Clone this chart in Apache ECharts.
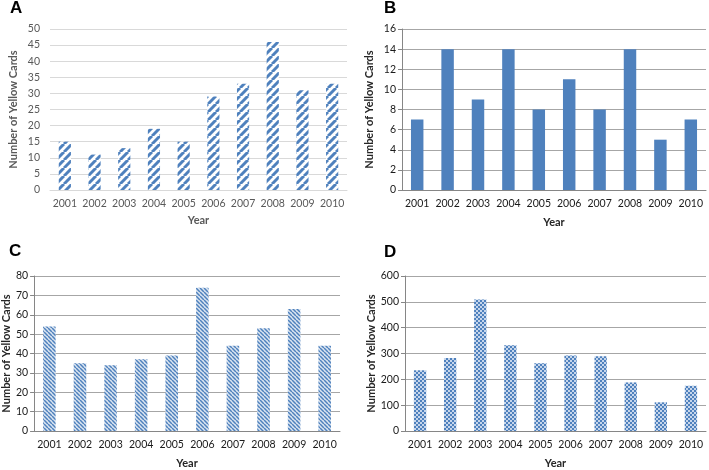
<!DOCTYPE html>
<html><head><meta charset="utf-8">
<script src="https://cdn.jsdelivr.net/npm/echarts@6/dist/echarts.min.js"></script>
<style>html,body{margin:0;padding:0;background:#fff}#c{width:709px;height:470px}</style>
</head><body><div id="c"></div>
<script>
const years = ['2001','2002','2003','2004','2005','2006','2007','2008','2009','2010'];
const valuesA = [15, 11, 13, 19, 15, 29, 33, 46, 31, 33];
const valuesB = [7, 14, 9, 14, 8, 11, 8, 14, 5, 7];
const valuesC = [54, 35, 34, 37, 39, 74, 44, 53, 63, 44];
const valuesD = [235, 283, 509, 332, 262, 292, 289, 188, 111, 175];
const panelLabels = ['A','B','C','D'];
const yMaxes = [50, 16, 80, 600];
const yIntervals = [5, 2, 10, 100];

const BLUE = '#4f81bd';
function makePattern(kind){
  const cv = document.createElement('canvas');
  const ctx = cv.getContext('2d');
  if(kind==='wide'){
    const s=8; cv.width=s; cv.height=s;
    ctx.fillStyle='#ffffff'; ctx.fillRect(0,0,s,s);
    ctx.strokeStyle=BLUE; ctx.lineWidth=3;
    for(let k=-1;k<=1;k++){ctx.beginPath();ctx.moveTo(k*s,s);ctx.lineTo(k*s+s,0);ctx.stroke();}
  } else if(kind==='fine'){
    const s=4; cv.width=s; cv.height=s;
    ctx.fillStyle='#dbe5f1'; ctx.fillRect(0,0,s,s);
    ctx.strokeStyle=BLUE; ctx.lineWidth=1.5;
    for(let k=-1;k<=1;k++){ctx.beginPath();ctx.moveTo(k*s,0);ctx.lineTo(k*s+s,s);ctx.stroke();}
  } else {
    const s=4; cv.width=s; cv.height=s;
    ctx.fillStyle='#c6d6ec'; ctx.fillRect(0,0,s,s);
    ctx.fillStyle=BLUE; ctx.fillRect(0,0,2,2); ctx.fillRect(2,2,2,2);
  }
  return {image: cv, repeat: 'repeat'};
}

const grids = [
  {left:50, top:29, width:297, height:161},
  {left:402, top:29, width:304, height:161},
  {left:32, top:276, width:308, height:160},
  {left:405, top:276, width:301, height:160}
];
const titlePos = [[10,0],[384,0],[9,243],[384,244]];
const nameGaps = [31, 27, 21, 27];
const FONT = 'Lato';
const chart = echarts.init(document.getElementById('c'));
const dataSets = [valuesA, valuesB, valuesC, valuesD];
const fills = [makePattern('wide'), BLUE, makePattern('fine'), makePattern('dots')];

const option = {
  animation:false,
  title: panelLabels.map((t,i)=>({text:t, left:titlePos[i][0], top:titlePos[i][1], padding:0,
    textStyle:{fontFamily:'Liberation Sans', fontWeight:'bold', fontSize:17, color:'#000'}})),
  grid: grids,
  xAxis: grids.map((g,i)=>({
    type:'category', gridIndex:i, data: years,
    name:'Year', nameLocation:'middle', nameGap: i===0?25:27,
    nameTextStyle:{fontFamily:FONT, fontWeight:'bold', fontSize:11, color: i===0?'#595959':'#262626'},
    axisLine:{show:true, lineStyle:{color: i===0?'#d9d9d9':'#868686'}},
    axisTick:{show:false},
    axisLabel:{interval:0, fontFamily:FONT, fontSize:10.5, color: i===0?'#595959':'#1a1a1a', margin:8}
  })),
  yAxis: grids.map((g,i)=>({
    type:'value', gridIndex:i, min:0, max:yMaxes[i], interval:yIntervals[i],
    name:'Number of Yellow Cards', nameLocation:'middle', nameGap:nameGaps[i],
    nameTextStyle:{fontFamily:FONT, fontWeight:'bold', fontSize:11, color: i===0?'#595959':'#262626'},
    axisLine:{show: i!==0, lineStyle:{color:'#868686'}},
    axisTick:{show: i!==0, length:4, lineStyle:{color:'#868686'}},
    splitLine:{show:true, lineStyle:{color: i===0?'#d9d9d9':'#a6a6a6', width:1}},
    axisLabel:{fontFamily:FONT, fontSize:10.5, color: i===0?'#595959':'#1a1a1a', margin: i===0?10:6}
  })),
  series: dataSets.map((d,i)=>({
    type:'bar', xAxisIndex:i, yAxisIndex:i, data:d, barWidth:'41%',
    itemStyle:{color: fills[i]}
  }))
};
chart.setOption(option);
</script></body></html>
